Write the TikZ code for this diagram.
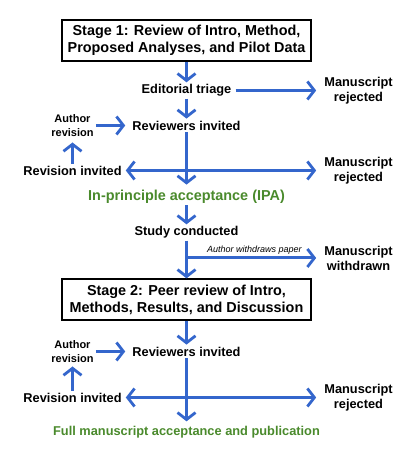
\documentclass[tikz,border=0pt]{standalone}
\usepackage{fontspec}
\setmainfont{Liberation Sans}
\usepackage{tikz}
\usetikzlibrary{arrows.meta, positioning, calc}
\definecolor{flowblue}{RGB}{52,102,204}
\definecolor{okgreen}{RGB}{74,138,44}
\tikzstyle{stagebox} = [rectangle, minimum width=249pt, minimum height=41pt, align=center, draw=black, line width=1.3pt, fill=white, font=\bfseries\fontsize{14.4}{17}\selectfont]
\tikzstyle{txt} = [align=center, inner sep=2pt, font=\bfseries\fontsize{12.8}{15}\selectfont]
\tikzstyle{smalltxt} = [align=center, inner sep=2pt, font=\bfseries\fontsize{11}{13.5}\selectfont]
\tikzstyle{greentxt} = [txt, text=okgreen]
\tikzstyle{flow} = [draw=flowblue, line width=3pt, -{Straight Barb[length=7pt, width=18pt, line width=2.8pt]}]
\tikzstyle{twoway} = [draw=flowblue, line width=3pt, {Straight Barb[length=7pt, width=18pt, line width=2.8pt]}-{Straight Barb[length=7pt, width=18pt, line width=2.8pt]}]

\begin{document}
\begin{tikzpicture}[x=1pt, y=1pt]
\useasboundingbox (0,0) rectangle (411,460);
% stage 1
\node (h1) [stagebox] at (186.5,419.5) {Stage 1: Review of Intro, Method,\\Proposed Analyses, and Pilot Data};
\node (h2) [txt, below of=h1, node distance=50pt] {Editorial triage};
\node (h3) [txt, right of=h2, node distance=172pt] {Manuscript\\rejected};
\node (h4) [txt, below of=h2, node distance=35pt] {Reviewers invited};
\node (h5) [smalltxt, left of=h4, node distance=114pt] {Author\\revision};
\node (h6) [txt, below of=h5, node distance=45pt] {Revision invited};
\node (h7) [txt, right of=h6, node distance=286pt] {Manuscript\\rejected};
\node (h8) [greentxt, below of=h4, node distance=71pt, font=\bfseries\fontsize{14.4}{17}\selectfont] {In-principle acceptance (IPA)};
\node (h9) [txt, below of=h8, node distance=36pt] {Study conducted};
\node (h10) [txt] at (358.5,202) {Manuscript\\withdrawn};
% stage 2
\node (h11) [stagebox, below of=h9, node distance=67pt] {Stage 2: Peer review of Intro,\\Methods, Results, and Discussion};
\node (h12) [txt, below of=h11, node distance=52pt] {Reviewers invited};
\node (h13) [smalltxt, left of=h12, node distance=114pt] {Author\\revision};
\node (h14) [txt, below of=h13, node distance=46pt] {Revision invited};
\node (h15) [txt, right of=h14, node distance=286pt] {Manuscript\\rejected};
\node (h16) [greentxt, below of=h12, node distance=81pt] {Full manuscript acceptance and publication};
\coordinate (c1) at (h9 |- h10);

\draw[flow] (h1) -- (h2);
\draw[flow, shorten <=2pt, shorten >=6pt] (h2) -- (h3);
\draw[flow] (h2) -- (h4);
\draw[flow, shorten >=5pt] (h5) -- (h4);
\draw[flow, shorten >=4pt] (h6) -- (h5);
\draw[flow, shorten >=3pt] (h4) -- (h8);
\draw[twoway, shorten <=2pt, shorten >=6pt] (h6) -- (h7);
\draw[flow] (h8) -- (h9);
\draw[flow] (h9) -- (h11);
\draw[flow, shorten >=6pt] (c1) -- (h10) node[midway, above, inner sep=2.5pt, font=\itshape\fontsize{9}{10}\selectfont, text=black] {Author withdraws paper};
\draw[flow] (h11) -- (h12);
\draw[flow, shorten >=5pt] (h13) -- (h12);
\draw[flow, shorten >=2pt] (h14) -- (h13);
\draw[flow, shorten >=3pt] (h12) -- (h16);
\draw[twoway, shorten <=2pt, shorten >=6pt] (h14) -- (h15);
\end{tikzpicture}
\end{document}
